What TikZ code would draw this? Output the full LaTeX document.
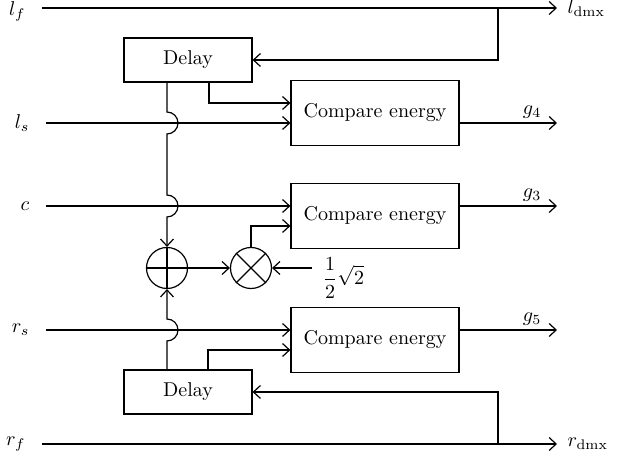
\documentclass[tikz,border=0pt]{standalone}
\usepackage{amsmath}
\usetikzlibrary{arrows.meta}
\tikzstyle{arrow} = [->,>={Straight Barb[length=3.5pt,width=6.5pt]}]
\tikzstyle{block} = [draw, minimum width=84pt, minimum height=32.5pt, inner sep=0pt]
\tikzstyle{delaybox} = [draw, minimum width=64pt, minimum height=22pt, inner sep=0pt]
\tikzstyle{junction} = [draw, circle, minimum size=20.5pt, inner sep=0pt]
\tikzstyle{sigin} = [anchor=east, inner xsep=8pt, inner ysep=0pt]
\tikzstyle{sigout} = [anchor=west, inner xsep=5pt, inner ysep=0pt]
\begin{document}
\begin{tikzpicture}[x=0.5pt,y=0.5pt,line width=0.6pt]
    \useasboundingbox (0,0) rectangle (622,459);
    % input and output signals
    \node[sigin] (lf) at (42,448) {$l_f$};
    \node[sigin] (ls) at (46,336) {$l_s$};
    \node[sigin] (c)  at (46,253) {$c$};
    \node[sigin] (rs) at (46,129) {$r_s$};
    \node[sigin] (rf) at (42,15)  {$r_f$};
    \node[sigout] (ldmx) at (557,451) {$l_{\mathrm{dmx}}$};
    \node[sigout] (rdmx) at (557,15)  {$r_{\mathrm{dmx}}$};
    % blocks
    \node[delaybox] (dly1) at (188,399) {Delay};
    \node[delaybox] (dly2) at (188,67)  {Delay};
    \node[block] (cmp1) at (375,346) {Compare energy};
    \node[block] (cmp2) at (375,243) {Compare energy};
    \node[block] (cmp3) at (375,119) {Compare energy};
    \node[junction] (sum) at (167,191) {};
    \node[junction] (mul) at (251,191) {};
    \draw (sum.north) -- (sum.south) (sum.west) -- (sum.east);
    \draw (mul.north east) -- (mul.south west) (mul.north west) -- (mul.south east);
    \coordinate (halfin) at (312,191);
    \node[anchor=west, inner sep=0pt] (half) at (322,181) {$\displaystyle\frac{1}{2}\sqrt{2}$};
    \coordinate (tapl) at (498,451);
    \coordinate (tapr) at (498,15);
    % through lines
    \draw[arrow] (lf.east |- ldmx.west) -- (ldmx.west);
    \draw[arrow] (rf.east) -- (rdmx.west);
    \draw[arrow] (tapl) |- (dly1.east);
    \draw[arrow] (tapr) |- (dly2.east);
    \draw[arrow] (ls.east) -- ([yshift=-5pt]cmp1.west);
    \draw[arrow] (c.east)  -- ([yshift=5pt]cmp2.west);
    \draw[arrow] (rs.east) -- ([yshift=5pt]cmp3.west);
    % delayed signals
    \draw[arrow] ([xshift=10.5pt]dly1.south) |- ([yshift=5pt]cmp1.west);
    \draw[arrow] ([xshift=10pt]dly2.north) |- ([yshift=-5pt]cmp3.west);
    \draw[arrow] (dly1.south -| sum.north) -- (167,347)
        arc[start angle=90,end angle=-90,radius=11] -- (167,264)
        arc[start angle=90,end angle=-90,radius=11] -- (sum.north);
    \draw[arrow] (dly2.north -| sum.south) -- (167,118)
        arc[start angle=-90,end angle=90,radius=11] -- (sum.south);
    % centre path
    \draw[arrow] (sum.east) -- (mul.west);
    \draw[arrow] (halfin) -- (mul.east);
    \draw[arrow] (mul.north) |- ([yshift=-5pt]cmp2.west);
    % outputs
    \draw[arrow] ([yshift=-5pt]cmp1.east) -- ([yshift=-5pt]cmp1.east -| ldmx.west)
        node[pos=.745, above, inner sep=2pt] {$g_4$};
    \draw[arrow] ([yshift=5pt]cmp2.east) -- ([yshift=5pt]cmp2.east -| ldmx.west)
        node[pos=.745, above, inner sep=2pt] {$g_3$};
    \draw[arrow] ([yshift=5pt]cmp3.east) -- ([yshift=5pt]cmp3.east -| ldmx.west)
        node[pos=.745, above, inner sep=2pt] {$g_5$};
\end{tikzpicture}
\end{document}
